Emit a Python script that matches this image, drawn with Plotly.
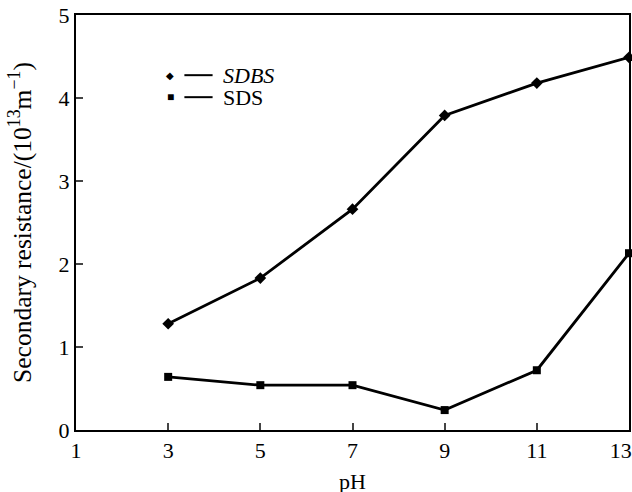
import plotly.graph_objects as go

ph = [3, 5, 7, 9, 11, 13]
sdbs = [1.28, 1.83, 2.66, 3.79, 4.18, 4.49]
sds = [0.64, 0.54, 0.54, 0.24, 0.72, 2.13]
x_ticks = [1, 3, 5, 7, 9, 11, 13]
x_tick_labels = ["1", "3", "5", "7", "9", "11", "13\u00a0\u00a0\u00a0"]
y_ticks = [0, 1, 2, 3, 4, 5]

font = "Liberation Serif"

fig = go.Figure()
fig.add_trace(go.Scatter(x=ph, y=sdbs, mode="lines+markers", name="SDBS",
                         line=dict(color="black", width=2.8),
                         marker=dict(symbol="diamond", size=9, color="black"),
                         cliponaxis=False, showlegend=False))
fig.add_trace(go.Scatter(x=ph, y=sds, mode="lines+markers", name="SDS",
                         line=dict(color="black", width=2.8),
                         marker=dict(symbol="square", size=8, color="black"),
                         cliponaxis=False, showlegend=False))

# hand-made legend (marker, short line, label)
leg_rows = [("◆", 10, "<i>SDBS</i>", 0.855), ("■", 12, "SDS", 0.802)]
for sym, ssize, label, yy in leg_rows:
    fig.add_annotation(x=0.17, y=yy, xref="paper", yref="paper", xanchor="center", yanchor="middle",
                       showarrow=False, text=sym, font=dict(family=font, size=ssize, color="black"))
    fig.add_shape(type="line", xref="paper", yref="paper", x0=0.196, x1=0.247, y0=yy, y1=yy,
                  line=dict(color="black", width=2))
    fig.add_annotation(x=0.262, y=yy, xref="paper", yref="paper", xanchor="left", yanchor="middle",
                       showarrow=False, text=label, font=dict(family=font, size=22, color="black"))

# x-axis title placed just above the bottom edge, as in the reference
fig.add_annotation(x=0.5, y=-0.124, xref="paper", yref="paper", xanchor="center", yanchor="middle",
                   showarrow=False, text="pH", font=dict(family=font, size=22, color="black"))

fig.update_layout(
    width=632, height=492,
    margin=dict(l=76, r=3, t=15, b=62),
    plot_bgcolor="white", paper_bgcolor="white",
    font=dict(family=font, size=22, color="black"),
    xaxis=dict(range=[1, 13], tickvals=x_ticks, ticktext=x_tick_labels, automargin=False,
               ticks="inside", ticklen=7, tickwidth=1.5, ticklabeloverflow="allow",
               showline=True, linecolor="black", linewidth=2, mirror=True,
               showgrid=False, zeroline=False,
               tickfont=dict(family=font, size=22)),
    yaxis=dict(range=[0, 5], tickvals=y_ticks, automargin=False,
               ticks="inside", ticklen=7, tickwidth=1.5,
               showline=True, linecolor="black", linewidth=2, mirror=True,
               showgrid=False, zeroline=False,
               tickfont=dict(family=font, size=22),
               title=dict(text="Secondary resistance/(10<sup>13</sup>m<sup>−1</sup>)",
                          font=dict(family=font, size=25.5), standoff=20)),
)

fig.write_html("out.html", config={"displayModeBar": False},
               post_script="document.body.style.margin='0';")
